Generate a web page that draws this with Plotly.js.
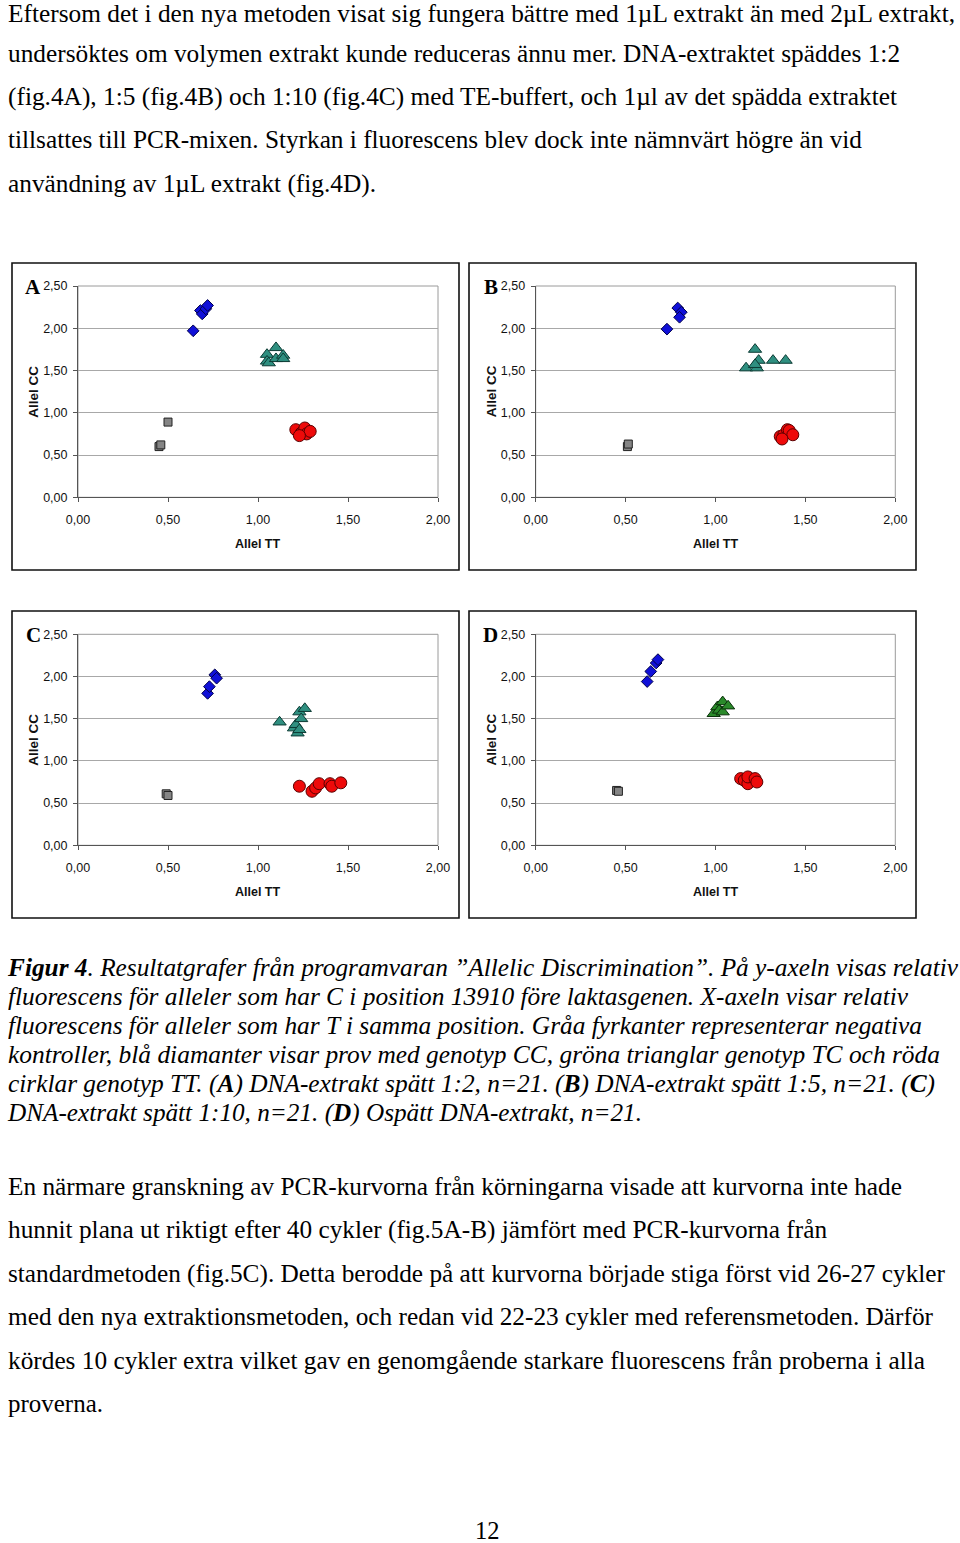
<!DOCTYPE html>
<html><head><meta charset="utf-8">
<script src="https://cdn.plot.ly/plotly-3.0.1.min.js"></script>
<style>
html,body{margin:0;padding:0;background:#fff;}
#page{position:relative;width:960px;height:1543px;overflow:hidden;background:#fff;}
#chart{position:absolute;left:0;top:0;width:960px;height:1543px;}
.ln{position:absolute;left:8px;white-space:nowrap;font-family:"Liberation Serif","Times New Roman",serif;font-size:24.5px;line-height:0.8;color:#000;transform-origin:0 0;}
.cap{font-style:italic;}
</style></head><body>
<div id="page">
<div id="chart"></div>
<div class="ln" data-b="22" data-r="955">Eftersom det i den nya metoden visat sig fungera bättre med 1µL extrakt än med 2µL extrakt,</div>
<div class="ln" data-b="62" data-r="900">undersöktes om volymen extrakt kunde reduceras ännu mer. DNA-extraktet späddes 1:2</div>
<div class="ln" data-b="105" data-r="897">(fig.4A), 1:5 (fig.4B) och 1:10 (fig.4C) med TE-buffert, och 1µl av det spädda extraktet</div>
<div class="ln" data-b="148.5" data-r="862">tillsattes till PCR-mixen. Styrkan i fluorescens blev dock inte nämnvärt högre än vid</div>
<div class="ln" data-b="192" data-r="376">användning av 1µL extrakt (fig.4D).</div>

<div class="ln cap" data-b="976.5" data-r="958"><b>Figur 4</b>. Resultatgrafer från programvaran ”Allelic Discrimination”. På y-axeln visas relativ</div>
<div class="ln cap" data-b="1005.5" data-r="908">fluorescens för alleler som har C i position 13910 före laktasgenen. X-axeln visar relativ</div>
<div class="ln cap" data-b="1034.5" data-r="922">fluorescens för alleler som har T i samma position. Gråa fyrkanter representerar negativa</div>
<div class="ln cap" data-b="1063.5" data-r="940">kontroller, blå diamanter visar prov med genotyp CC, gröna trianglar genotyp TC och röda</div>
<div class="ln cap" data-b="1092.5" data-r="935">cirklar genotyp TT. (<b>A</b>) DNA-extrakt spätt 1:2, n=21. (<b>B</b>) DNA-extrakt spätt 1:5, n=21. (<b>C</b>)</div>
<div class="ln cap" data-b="1121.5" data-r="642">DNA-extrakt spätt 1:10, n=21. (<b>D</b>) Ospätt DNA-extrakt, n=21.</div>

<div class="ln" data-b="1195" data-r="902">En närmare granskning av PCR-kurvorna från körningarna visade att kurvorna inte hade</div>
<div class="ln" data-b="1238.5" data-r="827">hunnit plana ut riktigt efter 40 cykler (fig.5A-B) jämfört med PCR-kurvorna från</div>
<div class="ln" data-b="1282" data-r="945">standardmetoden (fig.5C). Detta berodde på att kurvorna började stiga först vid 26-27 cykler</div>
<div class="ln" data-b="1325.5" data-r="933">med den nya extraktionsmetoden, och redan vid 22-23 cykler med referensmetoden. Därför</div>
<div class="ln" data-b="1369" data-r="925">kördes 10 cykler extra vilket gav en genomgående starkare fluorescens från proberna i alla</div>
<div class="ln" data-b="1412.5" data-r="103">proverna.</div>
<div class="ln" id="pnum" data-b="1539" style="left:475px">12</div>
</div>
<script>
// ---------- data ----------
const xTicks = [0, 0.5, 1, 1.5, 2];
const yTicks = [0, 0.5, 1, 1.5, 2, 2.5];
const panelLetters = ['A', 'B', 'C', 'D'];
const xTitle = 'Allel TT';
const yTitle = 'Allel CC';

// Panel A (1:2)
const negA_x = [0.45, 0.46, 0.50];
const negA_y = [0.60, 0.62, 0.89];
const ccA_x = [0.64, 0.68, 0.69, 0.71, 0.72];
const ccA_y = [1.97, 2.21, 2.17, 2.23, 2.27];
const tcA_x = [1.05, 1.05, 1.06, 1.10, 1.10, 1.14, 1.14];
const tcA_y = [1.69, 1.61, 1.59, 1.77, 1.64, 1.68, 1.64];
const ttA_x = [1.21, 1.24, 1.26, 1.27, 1.29, 1.23];
const ttA_y = [0.80, 0.76, 0.82, 0.75, 0.78, 0.73];

// Panel B (1:5)
const negB_x = [0.51, 0.515];
const negB_y = [0.60, 0.63];
const ccB_x = [0.73, 0.79, 0.81, 0.80];
const ccB_y = [1.99, 2.24, 2.19, 2.13];
const tcB_x = [1.17, 1.22, 1.24, 1.23, 1.22, 1.32, 1.39];
const tcB_y = [1.53, 1.75, 1.62, 1.53, 1.57, 1.62, 1.62];
const ttB_x = [1.36, 1.38, 1.40, 1.41, 1.43, 1.37];
const ttB_y = [0.72, 0.74, 0.80, 0.79, 0.74, 0.69];

// Panel C (1:10)
const negC_x = [0.49, 0.50];
const negC_y = [0.61, 0.59];
const ccC_x = [0.72, 0.73, 0.76, 0.77];
const ccC_y = [1.80, 1.88, 2.02, 1.98];
const tcC_x = [1.12, 1.20, 1.21, 1.22, 1.23, 1.23, 1.24, 1.26];
const tcC_y = [1.46, 1.39, 1.43, 1.33, 1.37, 1.58, 1.50, 1.62];
const ttC_x = [1.23, 1.30, 1.32, 1.34, 1.40, 1.41, 1.46];
const ttC_y = [0.70, 0.64, 0.68, 0.73, 0.73, 0.70, 0.74];

// Panel D (undiluted)
const negD_x = [0.45, 0.46];
const negD_y = [0.65, 0.64];
const ccD_x = [0.62, 0.64, 0.67, 0.68];
const ccD_y = [1.94, 2.06, 2.16, 2.20];
const tcD_x = [0.99, 1.01, 1.02, 1.04, 1.04, 1.07];
const tcD_y = [1.56, 1.64, 1.60, 1.70, 1.58, 1.65];
const ttD_x = [1.14, 1.16, 1.18, 1.18, 1.22, 1.23];
const ttD_y = [0.79, 0.77, 0.73, 0.81, 0.79, 0.75];

// ---------- layout ----------
const W = 960, H = 1543;
const px = x => x / W;
const py = y => 1 - y / H;

const panels = [
  {neg:[negA_x,negA_y], cc:[ccA_x,ccA_y], tc:[tcA_x,tcA_y], tt:[ttA_x,ttA_y],
   plot:[78,438,286,497.3], frame:[12,263,459,570], tcColor:'#2f8f80', tcLine:'#0b3a33'},
  {neg:[negB_x,negB_y], cc:[ccB_x,ccB_y], tc:[tcB_x,tcB_y], tt:[ttB_x,ttB_y],
   plot:[535.7,895.3,286,497.3], frame:[469,263,916,570], tcColor:'#2f8f80', tcLine:'#0b3a33'},
  {neg:[negC_x,negC_y], cc:[ccC_x,ccC_y], tc:[tcC_x,tcC_y], tt:[ttC_x,ttC_y],
   plot:[78,438,634.3,845.3], frame:[12,611,459,918], tcColor:'#2f8f80', tcLine:'#0b3a33'},
  {neg:[negD_x,negD_y], cc:[ccD_x,ccD_y], tc:[tcD_x,tcD_y], tt:[ttD_x,ttD_y],
   plot:[535.7,895.3,634.3,845.3], frame:[469,611,916,918], tcColor:'#2a8a2a', tcLine:'#0a300a'}
];

const traces = [];
const layout = {
  width: W, height: H,
  margin: {l:0, r:0, t:0, b:0},
  paper_bgcolor: 'rgba(0,0,0,0)',
  plot_bgcolor: '#ffffff',
  showlegend: false,
  separators: ', ',
  font: {family: '"Liberation Sans", Arial, sans-serif', size: 12.5, color: '#111'},
  shapes: [], annotations: []
};

panels.forEach((p, i) => {
  const n = i + 1;
  const xa = 'x' + (n === 1 ? '' : n), ya = 'y' + (n === 1 ? '' : n);
  const xk = 'xaxis' + (n === 1 ? '' : n), yk = 'yaxis' + (n === 1 ? '' : n);
  const [l, r, t, b] = p.plot;
  layout[xk] = {
    domain: [px(l), px(r)], anchor: ya, range: [0, 2], tickvals: xTicks, tickformat: '.2f',
    showgrid: false, zeroline: false, showline: true, linecolor: '#555', linewidth: 1,
    ticks: 'outside', ticklen: 4, tickcolor: '#555', ticklabelstandoff: 7,
    tickfont: {size: 12.5, color: '#111'}, fixedrange: true
  };
  layout[yk] = {
    domain: [py(b), py(t)], anchor: xa, range: [0, 2.5], tickvals: yTicks, tickformat: '.2f',
    showgrid: true, gridcolor: '#a8a8a8', gridwidth: 1, zeroline: false,
    showline: true, linecolor: '#555', linewidth: 1,
    ticks: 'outside', ticklen: 4, tickcolor: '#555', ticklabelstandoff: 3,
    tickfont: {size: 12.5, color: '#111'}, fixedrange: true
  };
  layout.shapes.push({type:'rect', xref:'paper', yref:'paper', x0:px(l), x1:px(r), y0:py(b), y1:py(t),
    line:{color:'#9a9a9a', width:1}, layer:'below'});
  const [fl, ft, fr, fb] = p.frame;
  layout.shapes.push({type:'rect', xref:'paper', yref:'paper', x0:px(fl), x1:px(fr), y0:py(fb), y1:py(ft),
    line:{color:'#111', width:1.6}});
  layout.annotations.push({xref:'paper', yref:'paper', x:px((l+r)/2), y:py(b+47), text:'<b>'+xTitle+'</b>',
    showarrow:false, xanchor:'center', yanchor:'middle', font:{size:12.5, color:'#111'}});
  layout.annotations.push({xref:'paper', yref:'paper', x:px(l-44), y:py((t+b)/2), text:'<b>'+yTitle+'</b>',
    showarrow:false, textangle:-90, xanchor:'center', yanchor:'middle', font:{size:13.5, color:'#111'}});
  layout.annotations.push({xref:'paper', yref:'paper', x:px(l-45), y:py(t+1), text:'<b>'+panelLetters[i]+'</b>',
    showarrow:false, xanchor:'center', yanchor:'middle',
    font:{family:'"Liberation Serif","Times New Roman",serif', size:21, color:'#000'}});

  traces.push({type:'scatter', mode:'markers', x:p.neg[0], y:p.neg[1], xaxis:xa, yaxis:ya,
    marker:{symbol:'square', size:8, color:'#858585', line:{color:'#222', width:1}}});
  traces.push({type:'scatter', mode:'markers', x:p.cc[0], y:p.cc[1], xaxis:xa, yaxis:ya,
    marker:{symbol:'diamond', size:9, color:'#1010d8', line:{color:'#00004a', width:1}}});
  traces.push({type:'scatter', mode:'markers', x:p.tc[0], y:p.tc[1], xaxis:xa, yaxis:ya,
    marker:{symbol:'triangle-up', size:11.5, color:p.tcColor, line:{color:p.tcLine, width:1}}});
  traces.push({type:'scatter', mode:'markers', x:p.tt[0], y:p.tt[1], xaxis:xa, yaxis:ya,
    marker:{symbol:'circle', size:12, color:'#ee0a0a', line:{color:'#5a0000', width:1}}});
});

Plotly.newPlot('chart', traces, layout, {staticPlot:true, displayModeBar:false});

function placeText(){
  document.querySelectorAll('.ln').forEach(el => {
    el.style.transform = 'none';
    const fs = parseFloat(getComputedStyle(el).fontSize);
    // line-height 0.8 => baseline sits 0.7375em below box top (Liberation Serif metrics)
    el.style.top = (+el.dataset.b - 0.7375*fs) + 'px';
    if (el.dataset.r) {
      const w = el.getBoundingClientRect().width;
      const target = +el.dataset.r - 8;
      el.style.transform = 'scaleX(' + (target / w).toFixed(4) + ')';
    }
  });
}
placeText();
if (document.fonts && document.fonts.ready) document.fonts.ready.then(placeText);
</script>
</body></html>
